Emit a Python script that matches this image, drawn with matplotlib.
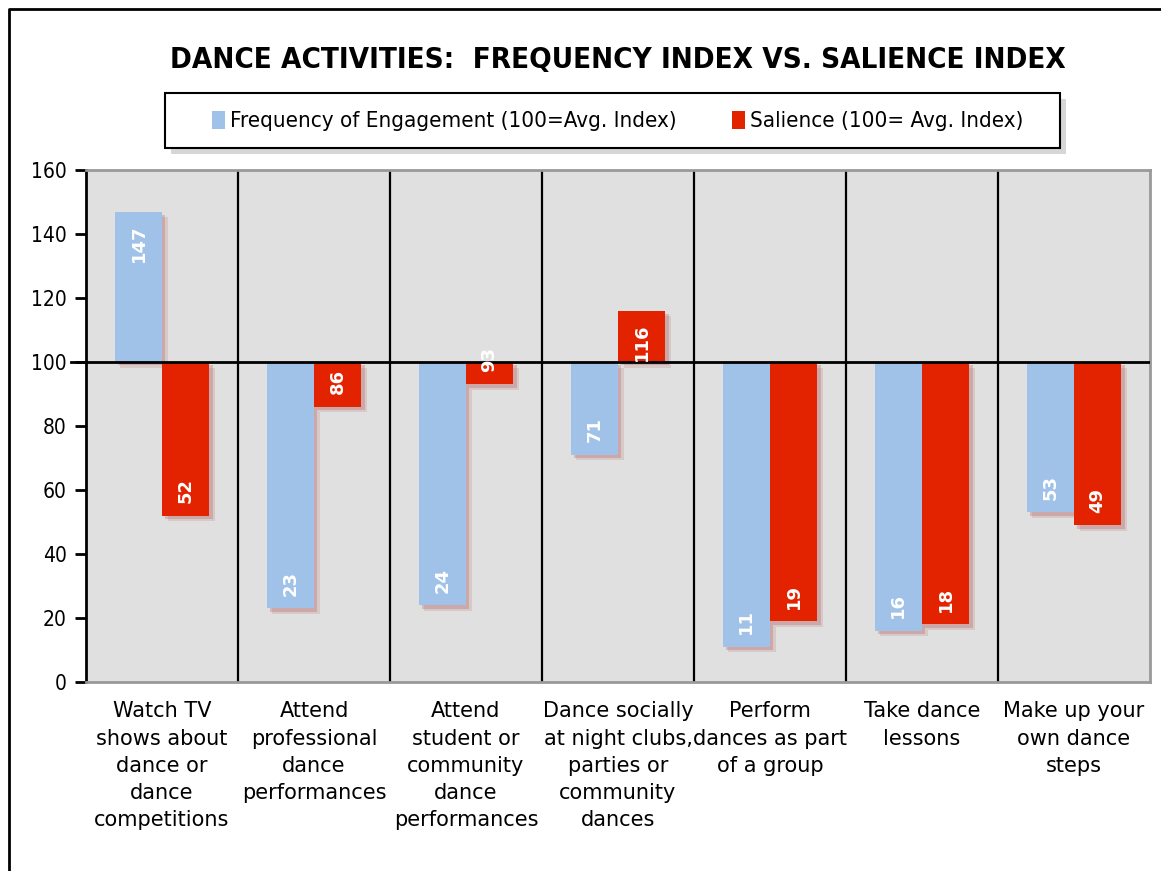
import numpy as np
import matplotlib
matplotlib.use("Agg")
import matplotlib.pyplot as plt
import matplotlib.patheffects as pe
from matplotlib import font_manager
from matplotlib.lines import Line2D
from matplotlib.patches import Rectangle

# data
categories = [
    "Watch TV\nshows about\ndance or\ndance\ncompetitions",
    "Attend\nprofessional\ndance\nperformances",
    "Attend\nstudent or\ncommunity\ndance\nperformances",
    "Dance socially\nat night clubs,\nparties or\ncommunity\ndances",
    "Perform\ndances as part\nof a group",
    "Take dance\nlessons",
    "Make up your\nown dance\nsteps",
]
frequency = [147, 23, 24, 71, 11, 16, 53]
salience = [52, 86, 93, 116, 19, 18, 49]
yticks = [0, 20, 40, 60, 80, 100, 120, 140, 160]
baseline = 100

# a condensed face for the title / legend if there is one
fonts = font_manager.fontManager.ttflist
has_cond = any(f.name == "DejaVu Sans" and f.stretch == "condensed" for f in fonts)
stretch = "condensed" if has_cond else "normal"

blue = "#a0c2e8"
red = "#e32200"
W, H = 1161, 871

fig = plt.figure(figsize=(W / 100, H / 100), dpi=100)
ax = fig.add_axes([0.0741, 0.2170, 0.9164, 0.5878])
ax.set_facecolor("#e0e0e0")

x = np.arange(len(categories))
w = 0.31
# two stacked faint shadows to soften the edge a bit
shadow = [pe.SimplePatchShadow(offset=(4, -4), shadow_rgbFace="#b04848", alpha=0.15),
          pe.SimplePatchShadow(offset=(2.5, -2.5), shadow_rgbFace="#b04848", alpha=0.25),
          pe.Normal()]

b1 = ax.bar(x - w / 2, np.array(frequency) - baseline, w, bottom=baseline, color=blue,
            label="Frequency of Engagement (100=Avg. Index)", zorder=3)
b2 = ax.bar(x + w / 2, np.array(salience) - baseline, w, bottom=baseline, color=red,
            label="Salience (100= Avg. Index)", zorder=3)
for bars in (b1, b2):
    for p in bars:
        p.set_path_effects(shadow)

# value labels inside the bar end
for xs, vals in ((x - w / 2, frequency), (x + w / 2, salience)):
    for xi, v in zip(xs, vals):
        up = v > baseline
        ax.annotate(str(v), (xi, v), xytext=(0, -9 if up else 9), textcoords="offset points",
                    rotation=90, ha="center", va="top" if up else "bottom",
                    color="white", fontsize=13, fontweight="bold", zorder=5)

# category separators and the 100 line
for b in np.arange(0.5, len(categories) - 0.5, 1):
    ax.axvline(b, color="black", lw=1.6, zorder=2)
ax.axhline(baseline, color="black", lw=2, zorder=4)
ax.plot([-0.6, -0.5], [baseline, baseline], color="black", lw=2, clip_on=False)

ax.set_xlim(-0.5, len(categories) - 0.5)
ax.set_ylim(0, 160)
ax.set_yticks(yticks)
ax.set_yticklabels([str(t) for t in yticks], fontsize=15, fontstretch=stretch)
ax.tick_params(axis="y", direction="out", length=8, width=2, pad=6)
ax.set_xticks(x)
ax.set_xticklabels(categories, fontsize=15, linespacing=1.45)
ax.tick_params(axis="x", length=0, pad=14)

for s in ("top", "right", "bottom"):
    ax.spines[s].set_color("#999999")
    ax.spines[s].set_linewidth(2)
ax.spines["left"].set_color("black")
ax.spines["left"].set_linewidth(2)

title = fig.text(0.532, 0.931, "DANCE ACTIVITIES:  FREQUENCY INDEX VS. SALIENCE INDEX",
                 ha="center", va="center", fontsize=22, fontweight="bold", fontstretch=stretch)
# fit the title to the width it has in the reference (~895 px)
r = fig.canvas.get_renderer()
tw = title.get_window_extent(r).width
title.set_fontsize(22 * 895 / tw)

# legend box drawn by hand so it gets the reference's size
fig.add_artist(Rectangle((171 / W, 1 - 154 / H), 895 / W, 55 / H, transform=fig.transFigure,
                         facecolor="#bbbbbb", edgecolor="none", alpha=0.6, zorder=1))
fig.add_artist(Rectangle((165 / W, 1 - 148 / H), 895 / W, 55 / H, transform=fig.transFigure,
                         facecolor="white", edgecolor="black", lw=1.5, zorder=2))
leg = fig.legend(loc="center", bbox_to_anchor=(0.532, 1 - 121 / H), ncol=2, frameon=False,
                 handlelength=0.6, handleheight=0.9, handletextpad=0.2, columnspacing=2.5,
                 prop={"size": 14.5 if not has_cond else 16, "stretch": stretch})
leg.set_zorder(3)
for h in leg.legend_handles:
    h.set_path_effects([])

# outer border of the chart
fig.add_artist(Line2D([0.008, 0.008, 1.0], [0.0, 0.99, 0.99], color="black", lw=2,
                      transform=fig.transFigure))

fig.savefig("out.png", dpi=100)
